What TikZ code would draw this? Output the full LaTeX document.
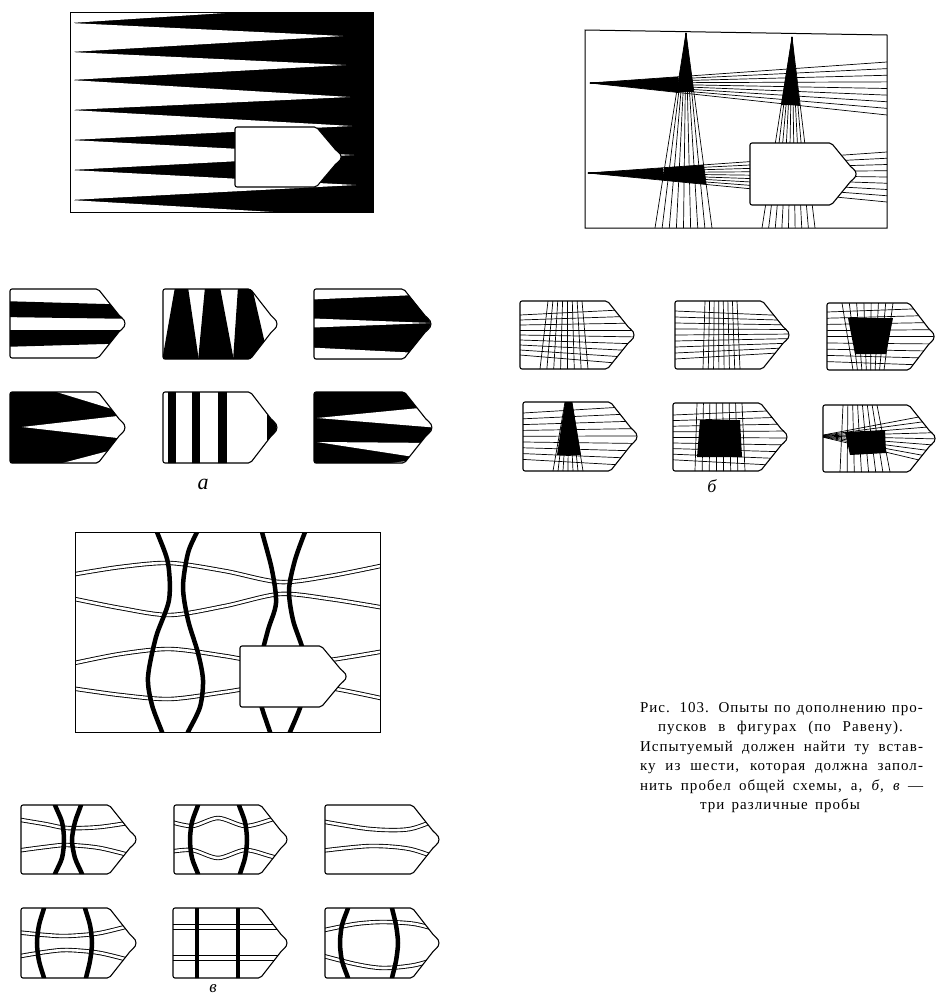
\documentclass[tikz,border=0pt]{standalone}
\usepackage{fontspec}
\setmainfont{Liberation Serif}
\newfontfamily\capfont[LetterSpace=7]{Liberation Serif}
\newcommand\pent[4]{(#1,#2) -- ({#3-0.24*(#3-#1)},#2) -- ({#3-0.05*(#3-#1)},{(#2+#4)/2-0.1*(#4-#2)}) .. controls (#3,{(#2+#4)/2-0.04*(#4-#2)}) and (#3,{(#2+#4)/2+0.04*(#4-#2)}) .. ({#3-0.05*(#3-#1)},{(#2+#4)/2+0.1*(#4-#2)}) -- ({#3-0.24*(#3-#1)},#4) -- (#1,#4) -- cycle}
\tikzset{
 outl/.style={line width=1.1pt, rounded corners=2pt},
 ln/.style={line width=0.7pt},
 thk/.style={line width=4.5pt},
 dbl/.style={line width=0.9pt, double=white, double distance=2.6pt},
 frm/.style={line width=1pt},
 captxt/.style={font=\capfont\fontsize{15}{19.5}\selectfont, inner sep=0pt, anchor=base},
 lbl/.style={font=\itshape\fontsize{18}{18}\selectfont, inner sep=0pt},
}
\begin{document}
\begin{tikzpicture}[x=1pt,y=-1pt]
\useasboundingbox (0,0) rectangle (936,999);
\fill[white] (0,0) rectangle (936,999);

%% ================= PANEL A (big) =================
\fill (70,12) rectangle (373,212);
\fill[white] (70,12) -- (70,23) -- (240,12) -- cycle;
\foreach \a/\b/\x/\t in {23/52/343/36, 52/80/346/65, 80/110/350/97, 110/140/352/126, 140/170/354/155, 170/200/356/185}
  \fill[white] (70,\a) -- (\x,\t) -- (70,\b) -- cycle;
\fill[white] (70,200) -- (70,212) -- (273,212) -- cycle;
\draw[frm] (70,12) rectangle (373,212);
\draw[outl, fill=white] \pent{235}{127}{342}{187};

%% ================= PANEL A (small) =================
% p1
\begin{scope}\clip \pent{10}{289}{126}{358};
 \fill (0,301) -- (140,305) -- (140,319) -- (0,317) -- cycle;
 \fill (0,330) -- (140,330) -- (140,343) -- (0,347) -- cycle;
\end{scope}
\draw[outl] \pent{10}{289}{126}{358};
% p2
\begin{scope}\clip \pent{163}{289}{278}{359};
 \fill (175,287) -- (188,287) -- (199,361) -- (162,361) -- cycle;
 \fill (205,287) -- (220,287) -- (234,361) -- (198,361) -- cycle;
 \fill (238,287) -- (252,287) -- (269,361) -- (233,361) -- cycle;
\end{scope}
\draw[outl] \pent{163}{289}{278}{359};
% p3
\begin{scope}\clip \pent{314}{289}{432}{359};
 \fill (300,280) rectangle (440,370);
 \fill[white] (300,285) -- (300,300) -- (440,294) -- (440,285) -- cycle;
 \fill[white] (300,318) -- (432,323) -- (300,328) -- cycle;
 \fill[white] (300,347) -- (440,354) -- (440,365) -- (300,365) -- cycle;
\end{scope}
\draw[outl] \pent{314}{289}{432}{359};
% p4
\begin{scope}\clip \pent{10}{392}{126}{463};
 \fill (0,385) rectangle (140,470);
 \fill[white] (50,390) -- (135,390) -- (135,416) -- cycle;
 \fill[white] (22,427) -- (135,414) -- (135,440) -- cycle;
 \fill[white] (55,465) -- (135,465) -- (135,444) -- cycle;
\end{scope}
\draw[outl] \pent{10}{392}{126}{463};
% p5
\begin{scope}\clip \pent{163}{392}{278}{463};
 \fill (168,385) rectangle (176,470);
 \fill (192,385) rectangle (200,470);
 \fill (218,385) rectangle (227,470);
 \fill (267,385) rectangle (290,470);
\end{scope}
\draw[outl] \pent{163}{392}{278}{463};
% p6
\begin{scope}\clip \pent{314}{392}{433}{463};
 \fill (300,385) rectangle (440,470);
 \fill[white] (395,390) -- (440,390) -- (440,401) -- cycle;
 \fill[white] (317,418) -- (440,406) -- (440,428) -- cycle;
 \fill[white] (317,442) -- (440,443) -- (440,461) -- cycle;
 \fill[white] (375,465) -- (440,465) -- (440,457) -- cycle;
\end{scope}
\draw[outl] \pent{314}{392}{433}{463};
\node[lbl, font=\itshape\fontsize{22}{22}\selectfont] (la) at (203,484) {а};

%% ================= PANEL B (big) =================
\begin{scope}
 \clip (585,30) -- (887,35) -- (887,228) -- (585,228) -- cycle;
 \foreach \i in {0,...,8} \draw[ln] (686,33) -- ({655+\i*57/8},228);
 \foreach \i in {0,...,8} \draw[ln] (792,37) -- ({762+\i*53/8},228);
 \foreach \j in {0,...,8} \draw[ln] (590,83) -- (887,{62+\j*53/8});
 \foreach \j in {0,...,8} \draw[ln] (588,173) -- (887,{152+\j*50/8});
 \fill (686,33) -- (676.6,92) -- (693.9,92) -- cycle;
 \fill (792,37) -- (781,105) -- (800,105) -- cycle;
 \fill (590,83) -- (678,76.8) -- (678,92.4) -- cycle;
 \fill (588,173) -- (663,167.8) -- (663,180.2) -- cycle;
 \fill (intersection of 588,173--887,152 and 686,33--655,228)
    -- (intersection of 588,173--887,152 and 686,33--712,228)
    -- (intersection of 588,173--887,202 and 686,33--712,228)
    -- (intersection of 588,173--887,202 and 686,33--655,228) -- cycle;
\end{scope}
\draw[outl, fill=white] \pent{750}{143}{857}{205};
\draw[frm] (585,30) -- (887,35) -- (887,228) -- (585,228) -- cycle;

%% ================= PANEL B (small) =================
% q1
\begin{scope}\clip \pent{520}{301}{635}{369};
 \foreach \i in {0,...,7} \draw[ln] ({548+\i*34/7},301) -- ({540+\i*48/7},369);
 \foreach \j in {0,...,8} \draw[ln] (520,{315+\j*5}) -- (640,{309+\j*7});
\end{scope}
\draw[outl] \pent{520}{301}{635}{369};
% q2
\begin{scope}\clip \pent{675}{301}{790}{369};
 \foreach \i in {0,...,7} \draw[ln] ({705+\i*32/7},301) -- ({703+\i*37/7},369);
 \foreach \j in {0,...,8} \draw[ln] (675,{311+\j*6}) -- (795,{316+\j*4.5});
\end{scope}
\draw[outl] \pent{675}{301}{790}{369};
% q3
\begin{scope}\clip \pent{827}{303}{935}{370};
 \foreach \i in {0,...,7} \draw[ln] ({842+\i*51/7},303) -- ({853+\i*31/7},370);
 \foreach \j in {0,...,8} \draw[ln] (827,{312+\j*6.2}) -- (940,{308+\j*7.2});
 \fill (848,318) -- (893,318) -- (886,354) -- (855,354) -- cycle;
\end{scope}
\draw[outl] \pent{827}{303}{935}{370};
% q4
\begin{scope}\clip \pent{523}{402}{638}{471};
 \foreach \i in {0,...,6} \draw[ln] ({565+\i*7/6},402) -- ({553+\i*30/6},471);
 \foreach \j in {0,...,8} \draw[ln] (523,{413+\j*5.8}) -- (640,{406+\j*7.5});
 \fill (565,402) -- (572,402) -- (581,455) -- (557,455) -- cycle;
\end{scope}
\draw[outl] \pent{523}{402}{638}{471};
% q5
\begin{scope}\clip \pent{673}{403}{788}{471};
 \foreach \i in {0,...,7} \draw[ln] ({697+\i*45/7},403) -- ({695+\i*50/7},471);
 \foreach \j in {0,...,8} \draw[ln] (673,{415+\j*5.6}) -- (790,{410+\j*7});
 \fill (700,420) -- (740,420) -- (742,457) -- (697,457) -- cycle;
\end{scope}
\draw[outl] \pent{673}{403}{788}{471};
% q6
\begin{scope}\clip \pent{823}{405}{936}{472};
 \foreach \i in {0,...,7} \draw[ln] ({843+\i*34/7},405) -- ({840+\i*50/7},472);
 \foreach \j in {0,...,8} \draw[ln] (818,436) -- (940,{413+\j*6.5});
 \fill (845,432) -- (885,430) -- (886,453) -- (850,455) -- cycle;
\end{scope}
\draw[outl] \pent{823}{405}{936}{472};
\node[lbl] (lb) at (712,486) {б};

%% ================= PANEL V (big) =================
\begin{scope}
 \clip (75,532) rectangle (380,732);
 \draw[dbl] plot[smooth] coordinates {(70,575) (120,567) (170,563) (225,571) (280,582) (330,576) (385,565)};
 \draw[dbl] plot[smooth] coordinates {(70,598) (120,608) (170,615) (225,606) (280,594) (330,599) (385,608)};
 \draw[dbl] plot[smooth] coordinates {(70,664) (120,654) (170,649) (225,656) (280,665) (330,660) (385,651)};
 \draw[dbl] plot[smooth] coordinates {(70,688) (120,695) (170,699) (225,692) (280,684) (330,688) (385,699)};
 \draw[thk] plot[smooth] coordinates {(156,527) (157,532) (168,563) (169,600) (156,637) (148,677) (152,705) (162,732) (163,737)};
 \draw[thk] plot[smooth] coordinates {(199,527) (197,532) (188,553) (183,587) (188,620) (198,653) (203,680) (200,707) (188,732) (186,737)};
 \draw[thk] plot[smooth] coordinates {(261,527) (262,532) (272,570) (276,603) (268,630) (260,663) (258,693) (270,732) (272,737)};
 \draw[thk] plot[smooth] coordinates {(307,527) (305,532) (295,560) (289,590) (293,620) (303,650) (308,680) (300,708) (290,732) (288,737)};
\end{scope}
\draw[frm] (75,532) rectangle (380,732);
\draw[outl, fill=white] \pent{240}{646}{347}{707};

%% ================= PANEL V (small) =================
% r1
\begin{scope}\clip \pent{21}{805}{137}{874};
 \draw[dbl] plot[smooth] coordinates {(15,819) (45,824) (67,828) (100,827) (140,821)};
 \draw[dbl] plot[smooth] coordinates {(15,851) (45,847) (67,845) (100,848) (140,858)};
 \draw[thk] plot[smooth] coordinates {(55,800) (55,805) (62,822) (64,840) (62,858) (55,874) (55,879)};
 \draw[thk] plot[smooth] coordinates {(81,800) (81,805) (75,822) (72,840) (75,858) (82,874) (82,879)};
\end{scope}
\draw[outl] \pent{21}{805}{137}{874};
% r2
\begin{scope}\clip \pent{174}{805}{288}{874};
 \draw[dbl] plot[smooth] coordinates {(168,821) (192,826) (218,818) (245,826) (270,820) (294,812)};
 \draw[dbl] plot[smooth] coordinates {(168,852) (192,850) (218,858) (245,850) (270,856) (294,863)};
 \draw[thk] plot[smooth] coordinates {(198,800) (198,805) (192,822) (190,840) (192,858) (198,874) (198,879)};
 \draw[thk] plot[smooth] coordinates {(239,800) (239,805) (245,822) (247,840) (245,858) (240,874) (240,879)};
\end{scope}
\draw[outl] \pent{174}{805}{288}{874};
% r3
\begin{scope}\clip \pent{325}{805}{440}{874};
 \draw[dbl] plot[smooth] coordinates {(320,821) (370,829) (410,829) (445,816)};
 \draw[dbl] plot[smooth] coordinates {(320,851) (370,846) (410,849) (445,861)};
\end{scope}
\draw[outl] \pent{325}{805}{440}{874};
% r4
\begin{scope}\clip \pent{21}{908}{137}{978};
 \draw[dbl] plot[smooth] coordinates {(15,932) (45,935) (67,936) (100,933) (140,923)};
 \draw[dbl] plot[smooth] coordinates {(15,957) (45,952) (67,950) (100,953) (140,963)};
 \draw[thk] plot[smooth] coordinates {(44,903) (44,908) (39,925) (37,943) (39,961) (44,978) (44,983)};
 \draw[thk] plot[smooth] coordinates {(85,903) (85,908) (90,925) (92,943) (90,961) (86,978) (86,983)};
\end{scope}
\draw[outl] \pent{21}{908}{137}{978};
% r5
\begin{scope}\clip \pent{173}{908}{288}{978};
 \draw[line width=0.9pt, double=white, double distance=4.5pt] (168,927) -- (295,927);
 \draw[line width=0.9pt, double=white, double distance=4.5pt] (168,958) -- (295,958);
 \draw[thk] (197,903) -- (197,983);
 \draw[thk] (238,903) -- (238,983);
\end{scope}
\draw[outl] \pent{173}{908}{288}{978};
% r6
\begin{scope}\clip \pent{325}{908}{440}{978};
 \draw[dbl] plot[smooth] coordinates {(320,931) (355,924) (383,922) (415,924) (445,932)};
 \draw[dbl] plot[smooth] coordinates {(320,955) (355,964) (383,968) (415,965) (445,956)};
 \draw[thk] plot[smooth] coordinates {(348,903) (348,908) (342,925) (340,943) (342,961) (348,978) (348,983)};
 \draw[thk] plot[smooth] coordinates {(392,903) (392,908) (396,925) (398,943) (396,961) (392,978) (392,983)};
\end{scope}
\draw[outl] \pent{325}{908}{440}{978};
\node[lbl, font=\itshape\fontsize{17}{17}\selectfont] (lv) at (213,989) {в};

%% ================= CAPTION =================
\node[captxt] (c1) at (781.5,712) {\makebox[283pt][s]{Рис. 103. Опыты по дополнению про-}};
\node[captxt] (c2) at (780.5,731.5) {\makebox[245pt][s]{пусков в фигурах (по Равену).}};
\node[captxt] (c3) at (781.5,751) {\makebox[283pt][s]{Испытуемый должен найти ту встав-}};
\node[captxt] (c4) at (781.5,770.5) {\makebox[283pt][s]{ку из шести, которая должна запол-}};
\node[captxt] (c5) at (781.5,790) {\makebox[283pt][s]{нить пробел общей схемы, а, {\itshape б,} {\itshape в} —}};
\node[captxt] (c6) at (780,809.5) {\makebox[160pt][s]{три различные пробы}};
\end{tikzpicture}
\end{document}
